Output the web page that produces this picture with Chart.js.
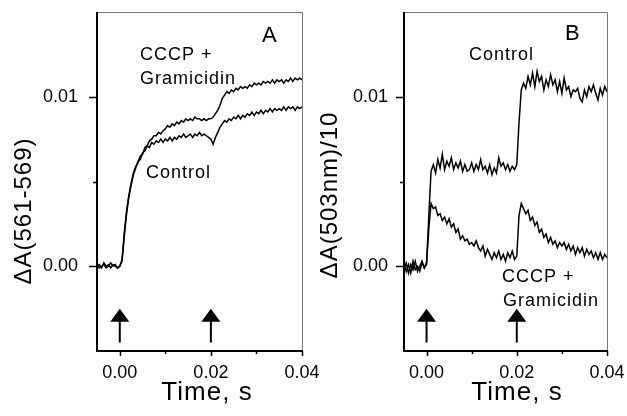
<!DOCTYPE html>
<html>

<head>
    <meta charset='utf-8'>
    <title>Flash-induced absorption changes, panels A and B</title>
    <script src="https://cdn.jsdelivr.net/npm/chart.js@4.4.0/dist/chart.umd.min.js"></script>
    <style>
        body { margin: 0; background: #fff; }
        #wrap { position: relative; width: 627px; height: 416px; overflow: hidden; }
        canvas { position: absolute; top: 0; }
    </style>
</head>

<body>
    <div id="wrap">
        <canvas id="chartA" width="330" height="416" style="left:0px"></canvas>
        <canvas id="chartB" width="317" height="416" style="left:310px"></canvas>
    </div>
    <script>
        // time axis, seconds
        const time = [
            -0.005, -0.0045, -0.004, -0.0035, -0.003, -0.0025, -0.002, -0.0015, -0.001, -0.0005,
            0, 0.0005, 0.001, 0.0015, 0.002, 0.0025, 0.003, 0.0035, 0.004, 0.0045,
            0.005, 0.0055, 0.006, 0.0065, 0.007, 0.0075, 0.008, 0.0085, 0.009, 0.0095,
            0.01, 0.0105, 0.011, 0.0115, 0.012, 0.0125, 0.013, 0.0135, 0.014, 0.0145,
            0.015, 0.0155, 0.016, 0.0165, 0.017, 0.0175, 0.018, 0.0185, 0.019, 0.0195,
            0.02, 0.0205, 0.021, 0.0215, 0.022, 0.0225, 0.023, 0.0235, 0.024, 0.0245,
            0.025, 0.0255, 0.026, 0.0265, 0.027, 0.0275, 0.028, 0.0285, 0.029, 0.0295,
            0.03, 0.0305, 0.031, 0.0315, 0.032, 0.0325, 0.033, 0.0335, 0.034, 0.0345,
            0.035, 0.0355, 0.036, 0.0365, 0.037, 0.0375, 0.038, 0.0385, 0.039, 0.0395,
            0.04
        ];

        // panel A: dA(561-569)
        const controlA = [
            0.0000, 0.0001, -0.0001, 0.0002, 0.0000, 0.0001, -0.0001, 0.0001, 0.0000, -0.0001,
            0.0000, 0.0003, 0.0018, 0.0031, 0.0041, 0.0048, 0.0054, 0.0058, 0.0062, 0.0063,
            0.0067, 0.0068, 0.0071, 0.0070, 0.0073, 0.0072, 0.0074, 0.0073, 0.0075, 0.0073,
            0.0075, 0.0074, 0.0076, 0.0074, 0.0076, 0.0075, 0.0077, 0.0076, 0.0078, 0.0076,
            0.0077, 0.0078, 0.0076, 0.0078, 0.0077, 0.0079, 0.0077, 0.0078, 0.0077, 0.0076,
            0.0075, 0.0072, 0.0076, 0.0079, 0.0082, 0.0084, 0.0086, 0.0085, 0.0087, 0.0086,
            0.0088, 0.0087, 0.0089, 0.0087, 0.0089, 0.0088, 0.0090, 0.0089, 0.0091, 0.0089,
            0.0091, 0.0090, 0.0092, 0.0090, 0.0092, 0.0091, 0.0093, 0.0091, 0.0093, 0.0092,
            0.0093, 0.0092, 0.0094, 0.0092, 0.0094, 0.0093, 0.0094, 0.0092, 0.0094, 0.0093,
            0.0094
        ];
        const cccpA = [
            0.0001, -0.0001, 0.0000, 0.0001, -0.0001, 0.0000, 0.0002, 0.0000, 0.0001, -0.0001,
            0.0000, 0.0004, 0.0020, 0.0033, 0.0042, 0.0049, 0.0055, 0.0059, 0.0061, 0.0065,
            0.0066, 0.0070, 0.0071, 0.0074, 0.0075, 0.0077, 0.0077, 0.0079, 0.0078, 0.0080,
            0.0081, 0.0083, 0.0082, 0.0084, 0.0083, 0.0085, 0.0084, 0.0086, 0.0085, 0.0087,
            0.0086, 0.0087, 0.0086, 0.0088, 0.0087, 0.0087, 0.0086, 0.0087, 0.0086, 0.0087,
            0.0087, 0.0088, 0.0090, 0.0092, 0.0095, 0.0099, 0.0101, 0.0103, 0.0102, 0.0104,
            0.0103, 0.0105, 0.0104, 0.0106, 0.0105, 0.0106, 0.0105, 0.0107, 0.0106, 0.0108,
            0.0107, 0.0108, 0.0107, 0.0109, 0.0108, 0.0109, 0.0108, 0.0110, 0.0108, 0.0110,
            0.0109, 0.0110, 0.0108, 0.0110, 0.0109, 0.0111, 0.0109, 0.0111, 0.0110, 0.0111,
            0.0110
        ];

        // panel B: dA(503nm)/10
        const controlB = [
            0.0002, -0.0003, 0.0001, -0.0004, 0.0003, -0.0002, 0.0000, -0.0003, 0.0002, -0.0001,
            0.0001, 0.0030, 0.0056, 0.0060, 0.0055, 0.0063, 0.0058, 0.0066, 0.0057, 0.0062,
            0.0059, 0.0064, 0.0057, 0.0061, 0.0058, 0.0062, 0.0056, 0.0060, 0.0056, 0.0057,
            0.0061, 0.0056, 0.0060, 0.0057, 0.0063, 0.0057, 0.0059, 0.0055, 0.0060, 0.0054,
            0.0058, 0.0055, 0.0064, 0.0059, 0.0061, 0.0057, 0.0060, 0.0056, 0.0059, 0.0057,
            0.0060, 0.0085, 0.0104, 0.0108, 0.0105, 0.0112, 0.0107, 0.0114, 0.0106, 0.0115,
            0.0109, 0.0112, 0.0104, 0.0110, 0.0106, 0.0113, 0.0107, 0.0110, 0.0103, 0.0109,
            0.0102, 0.0111, 0.0104, 0.0106, 0.0100, 0.0104, 0.0103, 0.0105, 0.0099, 0.0097,
            0.0104, 0.0100, 0.0106, 0.0103, 0.0107, 0.0102, 0.0098, 0.0105, 0.0101, 0.0106,
            0.0103
        ];
        const cccpB = [
            -0.0001, 0.0002, -0.0004, 0.0001, -0.0002, 0.0003, -0.0003, 0.0000, 0.0003, -0.0001,
            0.0002, 0.0022, 0.0037, 0.0034, 0.0035, 0.0030, 0.0031, 0.0027, 0.0029, 0.0025,
            0.0028, 0.0023, 0.0025, 0.0020, 0.0022, 0.0016, 0.0018, 0.0015, 0.0016, 0.0013,
            0.0014, 0.0012, 0.0015, 0.0011, 0.0009, 0.0012, 0.0006, 0.0010, 0.0007, 0.0004,
            0.0008, 0.0005, 0.0009, 0.0004, 0.0007, 0.0003, 0.0008, 0.0005, 0.0009, 0.0004,
            0.0006, 0.0030, 0.0037, 0.0034, 0.0031, 0.0033, 0.0027, 0.0029, 0.0024, 0.0026,
            0.0020, 0.0022, 0.0017, 0.0019, 0.0014, 0.0017, 0.0013, 0.0015, 0.0011, 0.0014,
            0.0012, 0.0014, 0.0010, 0.0013, 0.0009, 0.0012, 0.0007, 0.0011, 0.0008, 0.0011,
            0.0006, 0.0010, 0.0007, 0.0009, 0.0005, 0.0008, 0.0004, 0.0008, 0.0004, 0.0007,
            0.0005
        ];

        // ticks
        const xTicks = [0, 0.01, 0.02, 0.03, 0.04];
        const xLabeled = [0, 0.02, 0.04];
        const yTicks = [0, 0.005, 0.01];
        const yLabeled = [0, 0.01];

        // flash arrows (time, and arrow tail/tip in y units)
        const flashTimes = [0, 0.02];
        const arrowTail = -0.0045;
        const arrowTip = -0.0025;

        const FONT = "'Liberation Sans', Arial, Helvetica, sans-serif";
        const has = (list, v) => list.some(t => Math.abs(t - v) < 1e-9);

        // draws axes frame, ticks, arrows, titles and in-plot labels
        const decor = {
            id: 'decor',
            afterDraw(chart, args, opts) {
                const c = chart.ctx;
                const a = chart.chartArea;
                const xs = chart.scales.x, ys = chart.scales.y;
                c.save();
                // top + right frame (thin grey)
                c.strokeStyle = '#777';
                c.lineWidth = 1;
                c.beginPath();
                c.moveTo(a.left, a.top + 0.5); c.lineTo(a.right + 0.5, a.top + 0.5);
                c.lineTo(a.right + 0.5, a.bottom);
                c.stroke();
                // left + bottom axes
                c.strokeStyle = '#000';
                c.lineWidth = 2;
                c.beginPath();
                c.moveTo(a.left, a.top); c.lineTo(a.left, a.bottom); c.lineTo(a.right + 1, a.bottom);
                c.stroke();
                // ticks
                c.lineWidth = 1.5;
                c.beginPath();
                xTicks.forEach(v => {
                    const px = Math.round(xs.getPixelForValue(v)) + 0.5;
                    const len = has(xLabeled, v) ? 5 : 3;
                    c.moveTo(px, a.bottom); c.lineTo(px, a.bottom + len);
                });
                yTicks.forEach(v => {
                    const py = Math.round(ys.getPixelForValue(v)) + 0.5;
                    const len = has(yLabeled, v) ? 8 : 4;
                    c.moveTo(a.left, py); c.lineTo(a.left - len, py);
                });
                c.stroke();
                // flash arrows
                flashTimes.forEach(t => {
                    const px = xs.getPixelForValue(t);
                    const tip = ys.getPixelForValue(arrowTip);
                    const tail = ys.getPixelForValue(arrowTail);
                    c.lineWidth = 2;
                    c.beginPath();
                    c.moveTo(px, tail); c.lineTo(px, tip + 10);
                    c.stroke();
                    c.beginPath();
                    c.moveTo(px, tip); c.lineTo(px - 9.5, tip + 13); c.lineTo(px + 9.5, tip + 13);
                    c.closePath();
                    c.fillStyle = '#000';
                    c.fill();
                });
                // texts
                c.fillStyle = '#000';
                c.textBaseline = 'alphabetic';
                c.letterSpacing = '1px';
                opts.notes.forEach(n => {
                    c.font = n.size + 'px ' + FONT;
                    c.textAlign = 'left';
                    c.fillText(n.text, n.x, n.y);
                });
                // x title
                c.font = '26px ' + FONT;
                c.textAlign = 'center';
                c.fillText('Time, s', opts.xTitleX, 400);
                // y title (rotated)
                c.font = '24px ' + FONT;
                c.translate(opts.yTitleX, opts.yTitleY);
                c.rotate(-Math.PI / 2);
                c.textBaseline = 'middle';
                c.fillText(opts.yTitle, 0, 0);
                c.restore();
            }
        };

        function makePanel(id, control, cccp, p) {
            const toXY = arr => time.map((t, i) => ({ x: t, y: arr[i] }));
            return new Chart(document.getElementById(id), {
                type: 'line',
                data: {
                    datasets: [
                        { label: 'Control', data: toXY(control), borderColor: '#000', borderWidth: 1.5, pointRadius: 0, tension: 0 },
                        { label: 'CCCP + Gramicidin', data: toXY(cccp), borderColor: '#000', borderWidth: 1.5, pointRadius: 0, tension: 0 }
                    ]
                },
                options: {
                    responsive: false,
                    animation: false,
                    devicePixelRatio: 1,
                    layout: { padding: { left: 0, top: 12, right: p.padRight, bottom: 0 } },
                    plugins: {
                        legend: { display: false },
                        tooltip: { enabled: false },
                        decor: p
                    },
                    scales: {
                        x: {
                            type: 'linear',
                            min: -0.005,
                            max: 0.04,
                            afterBuildTicks: s => { s.ticks = xTicks.map(v => ({ value: v })); },
                            afterFit: s => { s.height = 65; s.paddingLeft = 0; s.paddingRight = 0; },
                            grid: { display: true, drawOnChartArea: false, drawTicks: true, tickLength: 5, color: 'rgba(0,0,0,0)' },
                            border: { display: false },
                            ticks: {
                                padding: 6,
                                color: '#000',
                                maxRotation: 0,
                                autoSkip: false,
                                font: { family: FONT, size: 18 },
                                callback: v => has(xLabeled, v) ? v.toFixed(2) : ''
                            }
                        },
                        y: {
                            min: -0.005,
                            max: 0.015,
                            afterBuildTicks: s => { s.ticks = yTicks.map(v => ({ value: v })); },
                            afterFit: s => { s.width = p.yWidth; s.paddingTop = 0; s.paddingBottom = 0; },
                            grid: { display: true, drawOnChartArea: false, drawTicks: true, tickLength: 8, color: 'rgba(0,0,0,0)' },
                            border: { display: false },
                            ticks: {
                                padding: p.yPad,
                                color: '#000',
                                autoSkip: false,
                                font: { family: FONT, size: 18 },
                                callback: v => has(yLabeled, v) ? v.toFixed(2) : ''
                            }
                        }
                    }
                },
                plugins: [decor]
            });
        }

        makePanel('chartA', controlA, cccpA, {
            padRight: 28, yWidth: 97, yPad: 11,
            xTitleX: 207, yTitleX: 24, yTitleY: 211, yTitle: 'ΔA(561-569)',
            notes: [
                { text: 'A', x: 262, y: 42, size: 22 },
                { text: 'CCCP +', x: 140, y: 60, size: 18 },
                { text: 'Gramicidin', x: 140, y: 84, size: 18 },
                { text: 'Control', x: 146, y: 178, size: 18 }
            ]
        });

        makePanel('chartB', controlB, cccpB, {
            padRight: 20, yWidth: 94, yPad: 8,
            xTitleX: 207, yTitleX: 20, yTitleY: 195, yTitle: 'ΔA(503nm)/10',
            notes: [
                { text: 'B', x: 255, y: 40, size: 22 },
                { text: 'Control', x: 159, y: 60, size: 18 },
                { text: 'CCCP +', x: 192, y: 282, size: 18 },
                { text: 'Gramicidin', x: 193, y: 306, size: 18 }
            ]
        });
    </script>
</body>

</html>
